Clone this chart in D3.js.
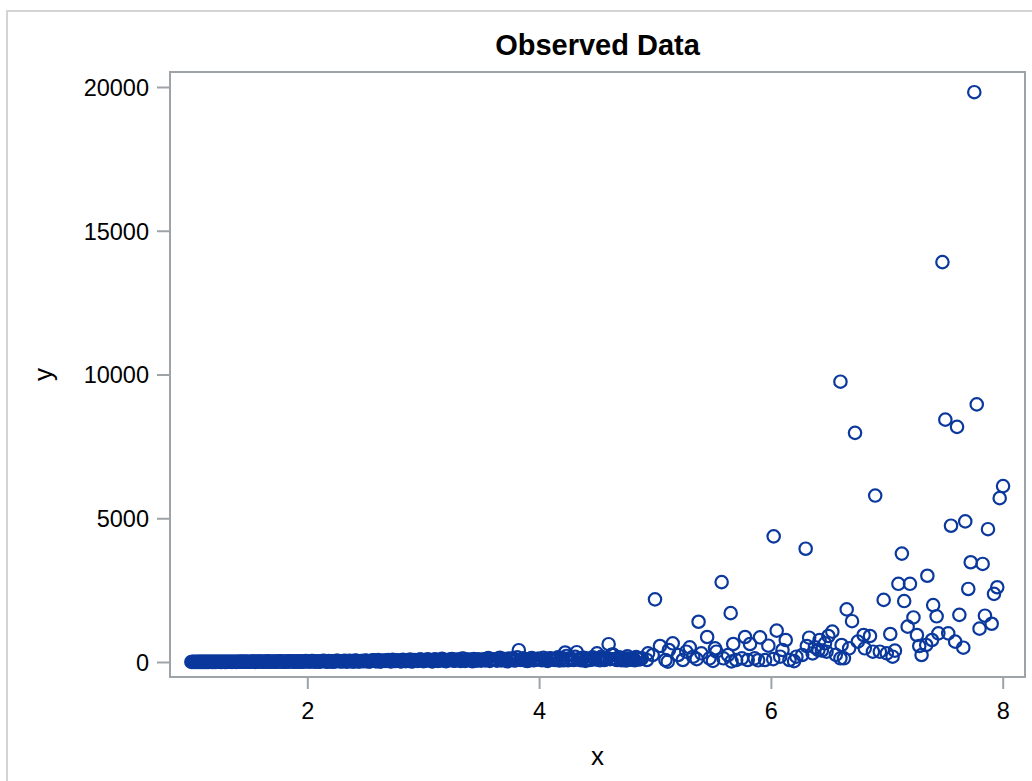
<!DOCTYPE html>
<html>
<head>
<meta charset="utf-8">
<script src="https://d3js.org/d3.v7.min.js"></script>
<style>
  body { margin: 0; background: #fff; }
  text { font-family: "Liberation Sans", Arial, sans-serif; fill: #000; }
</style>
</head>
<body>
<script>
// dense band, x from 1 to ~4.9, small y
var bandX = [
  1.000,1.025,1.050,1.075,1.100,1.125,1.150,1.175,1.200,1.225,1.250,1.275,1.300,1.325,1.350,1.375,1.400,1.425,1.450,1.475,
  1.500,1.525,1.550,1.575,1.600,1.625,1.650,1.675,1.700,1.725,1.750,1.775,1.800,1.825,1.850,1.875,1.900,1.925,1.950,1.975,
  2.000,2.025,2.050,2.075,2.100,2.125,2.150,2.175,2.200,2.225,2.250,2.275,2.300,2.325,2.350,2.375,2.400,2.425,2.450,2.475,
  2.500,2.525,2.550,2.575,2.600,2.625,2.650,2.675,2.700,2.725,2.750,2.775,2.800,2.825,2.850,2.875,2.900,2.925,2.950,2.975,
  3.000,3.025,3.050,3.075,3.100,3.125,3.150,3.175,3.200,3.225,3.250,3.275,3.300,3.325,3.350,3.375,3.400,3.425,3.450,3.475,
  3.500,3.525,3.550,3.575,3.600,3.625,3.650,3.675,3.700,3.725,3.750,3.775,3.800,3.825,3.850,3.875,3.900,3.925,3.950,3.975,
  4.000,4.025,4.050,4.075,4.100,4.125,4.150,4.175,4.200,4.225,4.250,4.275,4.300,4.325,4.350,4.375,4.400,4.425,4.450,4.475,
  4.500,4.525,4.550,4.575,4.600,4.625,4.650,4.675,4.700,4.725,4.750,4.775,4.800,4.825,4.850,4.875
];
var bandY = [
  2,3,3,4,4,5,3,6,5,7,4,8,6,9,5,10,7,12,8,9,
  11,14,6,12,18,9,15,11,20,8,16,22,10,13,25,12,18,9,21,15,
  28,12,30,17,9,24,35,14,20,11,38,26,15,42,19,30,13,45,22,33,
  50,18,28,60,24,15,48,35,70,20,40,55,26,80,32,45,18,65,38,90,
  28,50,75,22,90,40,60,85,30,70,100,45,85,35,110,55,80,25,75,95,
  48,90,110,38,85,70,120,55,100,25,95,130,65,410,80,60,35,110,60,90,
  110,60,90,40,130,80,100,50,140,330,60,120,70,340,90,150,40,110,80,130,
  300,60,130,90,620,250,100,70,150,80,50,120,90,60,140,100
];
// second pass of the band, in between the first
var band2X = [
  1.012,1.037,1.062,1.087,1.112,1.137,1.162,1.187,1.212,1.237,1.262,1.287,1.312,1.337,1.362,1.387,1.412,1.437,1.462,1.487,
  1.512,1.537,1.562,1.587,1.612,1.637,1.662,1.687,1.712,1.737,1.762,1.787,1.812,1.837,1.862,1.887,1.912,1.937,1.962,1.987,
  2.012,2.037,2.062,2.087,2.112,2.137,2.162,2.187,2.212,2.237,2.262,2.287,2.312,2.337,2.362,2.387,2.412,2.437,2.462,2.487,
  2.512,2.537,2.562,2.587,2.612,2.637,2.662,2.687,2.712,2.737,2.762,2.787,2.812,2.837,2.862,2.887,2.912,2.937,2.962,2.987,
  3.012,3.037,3.062,3.087,3.112,3.137,3.162,3.187,3.212,3.237,3.262,3.287,3.312,3.337,3.362,3.387,3.412,3.437,3.462,3.487,
  3.512,3.537,3.562,3.587,3.612,3.637,3.662,3.687,3.712,3.737,3.762,3.787,3.812,3.837,3.862,3.887,3.912,3.937,3.962,3.987,
  4.012,4.037,4.062,4.087,4.112,4.137,4.162,4.187,4.212,4.237,4.262,4.287,4.312,4.337,4.362,4.387,4.412,4.437,4.462,4.487,
  4.512,4.537,4.562,4.587,4.612,4.637,4.662,4.687,4.712,4.737,4.762,4.787,4.812,4.837,4.862,4.887
];
var band2Y = [
  3,2,5,3,6,4,7,5,4,8,6,5,9,7,11,6,10,8,14,9,
  7,16,10,19,8,13,21,10,17,12,24,9,19,14,27,11,23,16,10,30,
  18,36,10,26,20,40,13,31,22,16,44,24,35,12,39,27,48,17,36,25,
  40,22,55,31,66,19,44,58,27,75,36,50,22,62,42,85,30,55,47,70,
  38,95,55,30,80,48,115,36,66,90,42,75,58,120,40,88,65,105,45,70,
  80,55,135,70,95,45,150,80,60,120,90,50,160,75,130,55,100,140,70,110,
  80,150,55,120,95,70,160,100,60,210,130,80,180,90,60,150,110,70,160,90,
  120,180,70,140,100,260,90,160,60,130,200,80,110,170,90,130
];

// scattered points, x from ~4.9 to 8
var spreadX = [
  7.755,7.48,6.60,7.776,7.505,7.606,6.726,6.90,8.003,7.974,
  7.554,7.677,7.873,6.024,6.30,7.13,7.724,7.827,7.35,7.10,
  7.20,5.575,7.703,7.953,7.925,5.00,6.973,7.15,7.40,6.654,
  5.653,7.626,7.847,7.23,7.43,6.70,5.376,7.80,7.905,7.18,
  5.45,6.05,5.777,5.906,6.128,6.33,6.53,6.496,6.42,5.675,
  5.82,5.978,6.10,5.153,5.043,5.30,5.518,6.31,6.38,6.467,
  7.03,7.26,7.445,7.53,7.59,7.66,7.39,7.34,7.28,7.30,
  7.07,7.05,7.00,6.94,6.88,6.855,6.80,6.75,6.81,6.61,
  6.675,6.63,
  4.93,4.98,5.09,5.12,5.20,5.24,5.27,5.33,5.40,5.47,
  5.53,5.59,5.63,5.70,5.75,5.80,5.86,5.95,6.08,6.16,
  6.22,6.27,6.41,6.48,6.60,4.94,5.11,5.36,5.50,5.66,
  5.89,6.02,6.20,6.36,6.44,6.56
];
var spreadY = [
  19820,13910,9750,8960,8430,8180,7970,5790,6120,5700,
  4740,4890,4620,4370,3940,3770,3470,3410,3000,2720,
  2720,2780,2540,2600,2370,2180,2160,2120,1980,1830,
  1700,1640,1610,1550,1590,1420,1400,1160,1330,1230,
  870,1090,870,858,765,846,1055,904,765,626,
  626,567,417,650,557,511,476,557,511,650,
  974,939,997,997,707,498,765,591,557,243,
  394,185,302,358,358,904,939,707,476,591,
  476,128,
  70,243,70,417,243,70,358,185,302,128,
  358,128,243,70,128,70,128,70,185,70,
  185,243,417,358,128,302,10,100,40,20,
  60,100,30,300,400,250
];

var xTicks = [2, 4, 6, 8];
var yTicks = [0, 5000, 10000, 15000, 20000];

var w = 1032, h = 781;
var pLeft = 170, pRight = 1025, pTop = 72, pBottom = 677;
var frameColor = "#9ea3a8";
var markColor = "#0a389c";

var points = [];
bandX.forEach(function(x, i){ points.push({x: x, y: bandY[i]}); });
band2X.forEach(function(x, i){ points.push({x: x, y: band2Y[i]}); });
spreadX.forEach(function(x, i){ points.push({x: x, y: spreadY[i]}); });

var xScale = d3.scaleLinear().domain([2, 8]).range([307.3, 1002.7]);
var yScale = d3.scaleLinear().domain([0, 20000]).range([662, 87]);

var svg = d3.select("body").append("svg")
    .attr("width", w)
    .attr("height", h);

// outer border
svg.append("rect")
    .attr("x", 7).attr("y", 11)
    .attr("width", w + 20).attr("height", h + 20)
    .attr("fill", "none")
    .attr("stroke", "#d4d4d4")
    .attr("stroke-width", 2);

// markers
svg.append("g").selectAll("circle")
    .data(points)
    .enter().append("circle")
    .attr("cx", function(d){ return xScale(d.x); })
    .attr("cy", function(d){ return yScale(d.y); })
    .attr("r", 6.2)
    .attr("fill", "none")
    .attr("stroke", markColor)
    .attr("stroke-width", 2.2);

// frame
svg.append("rect")
    .attr("x", pLeft).attr("y", pTop)
    .attr("width", pRight - pLeft).attr("height", pBottom - pTop)
    .attr("fill", "none")
    .attr("stroke", frameColor)
    .attr("stroke-width", 2);

var xAxis = d3.axisBottom(xScale).tickValues(xTicks).tickSize(12).tickPadding(13).tickFormat(d3.format("d"));
var yAxis = d3.axisLeft(yScale).tickValues(yTicks).tickSize(13).tickPadding(8).tickFormat(d3.format("d"));

var gx = svg.append("g").attr("transform", "translate(0," + pBottom + ")").call(xAxis);
var gy = svg.append("g").attr("transform", "translate(" + pLeft + ",0)").call(yAxis);

[gx, gy].forEach(function(g){
    g.select(".domain").remove();
    g.selectAll(".tick line").attr("stroke", frameColor).attr("stroke-width", 2);
    g.selectAll(".tick text")
        .attr("fill", "#000")
        .style("font-family", "'Liberation Sans', Arial, sans-serif")
        .style("font-size", "23.5px");
});
gy.selectAll(".tick text").attr("dy", "0.36em");

// title and axis labels
svg.append("text")
    .attr("x", (pLeft + pRight) / 2).attr("y", 55)
    .attr("text-anchor", "middle")
    .style("font-size", "29px")
    .style("font-weight", "bold")
    .text("Observed Data");

svg.append("text")
    .attr("x", (pLeft + pRight) / 2).attr("y", 765)
    .attr("text-anchor", "middle")
    .style("font-size", "26px")
    .text("x");

svg.append("text")
    .attr("transform", "translate(52," + ((pTop + pBottom) / 2) + ") rotate(-90)")
    .attr("text-anchor", "middle")
    .style("font-size", "26px")
    .text("y");
</script>
</body>
</html>
